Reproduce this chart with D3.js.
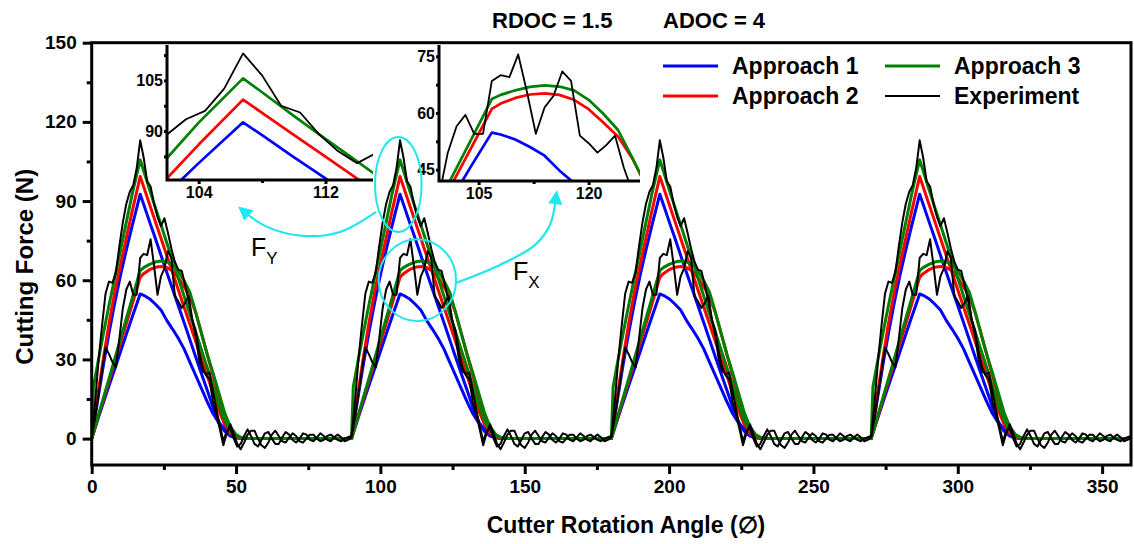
<!DOCTYPE html>
<html>
<head>
<meta charset="utf-8">
<script src="https://cdn.jsdelivr.net/npm/d3@7"></script>
<style>
body { margin: 0; background: #fff; }
svg { display: block; font-family: "Liberation Sans", Arial, sans-serif; }
</style>
</head>
<body>
<div id="chart"></div>
<script>
// the signal repeats for each of the 4 teeth, one period = 90 deg
const period = 90;
const teeth = 4;

// model curves, knots within one period
const modelAngles = [0, 0.6, 2, 4, 6, 8, 10, 12, 14, 16.8, 18, 20, 22, 24, 26, 28, 30, 32, 34, 36, 38, 40, 42, 44, 46, 48, 50, 52, 54, 90];
const a1Fy = [0, 4.2, 14, 27.5, 40, 51.5, 62, 71.5, 80.5, 92.6, 88.8, 82.3, 76, 69.5, 63, 56.7, 50.3, 44, 37.5, 31, 24.7, 18.4, 12, 6.5, 2.8, 1, 0.3, 0, 0, 0];
const a2Fy = [0, 4.6, 15.5, 30, 43.5, 55.5, 66, 76, 86, 99.3, 95.4, 88.9, 82.4, 75.9, 69.4, 62.9, 56.4, 49.9, 43.4, 36.9, 30.4, 23.9, 17.4, 11, 5.5, 2, 0.5, 0, 0, 0];
const a3Fy = [0, 19.5, 28, 39.5, 50.5, 61, 71.5, 82, 92.5, 105.6, 101.5, 94.5, 87.7, 81, 74.2, 67.5, 60.8, 54, 47.2, 40.5, 33.7, 27, 20, 13, 7, 3, 1, 0.2, 0, 0];
const a1Fx = [0, 2, 6.8, 13.5, 20, 26.5, 33, 39.5, 46, 54.8, 54.3, 53, 51, 48.7, 44.8, 41.5, 38, 34, 29, 24, 19, 14, 9.5, 6, 3.8, 1.5, 0.5, 0, 0, 0];
const a2Fx = [0, 2.2, 7.3, 14.5, 21.8, 29, 36.3, 43.5, 50.8, 61.1, 62.5, 64, 64.9, 65.2, 64.8, 63.5, 61, 57.5, 53.8, 47.8, 40, 32, 24, 16, 9, 4, 1, 0.2, 0, 0];
const a3Fx = [0, 2.3, 7.6, 15.2, 22.7, 30.3, 37.9, 45.5, 53, 63.7, 64.8, 66, 66.9, 67.3, 67, 66, 63.5, 59.8, 55.5, 48, 40, 32, 25, 17.5, 10, 4.5, 1.5, 0.3, 0, 0];

// experiment, sampled every 1.2 deg within one period
const expStep = 1.2;
const expFy = [1, 14, 30, 43, 55, 59.5, 59, 63, 73, 82, 89, 93.5, 96, 102.5, 113, 106.5, 97.5, 95.5, 89, 84,
  80.5, 83.5, 78, 72, 67, 64, 63.5, 58, 52, 45, 41, 33, 27, 24, 22.5, 14, 9, 3.5,
  -2.5, 2, 5.5, 2, -2, -4, -1.5, 1.5, 3, 3, 0, -2.5, -3.5, -1.5, 1.5, 3, 1, -1, -1.5, 0.5,
  2, 1, -1, -1.5, 0, 1.5, 1.5, 0, -1, -0.5, 1, 1.5, 0.5, -0.5, -1, 0, 0.5];
const expFx = [0.5, 8, 17, 26, 34.5, 32, 29, 27, 38, 49.5, 56.5, 59.5, 54.5, 54.5, 68.5, 70, 69.5, 75.5, 65.5, 54.5,
  61.5, 64.5, 71, 68.5, 54, 52, 49.5, 51.5, 54, 45.5, 39, 30, 25.5, 24.5, 25, 18, 11, 5,
  -1, 3, 4, 0, -3, -2, 1, 3.5, 1, -2, -3, -0.5, 2, 2.5, 0, -2, -2, 0.5, 2.5, 1.5,
  -0.5, -1.5, 0, 2, 1.5, -0.5, -1, 0.5, 2, 1, -0.5, -1, 0.5, 1.5, 0.5, -1, -0.5];

const xDomain = [0, 360];
const yDomain = [-10, 150];
const xTicks = [0, 50, 100, 150, 200, 250, 300, 350];
const xMinor = [25, 75, 125, 175, 225, 275, 325];
const yTicks = [0, 30, 60, 90, 120, 150];
const yMinor = [15, 45, 75, 105, 135];

const legendLabels = ["Approach 1", "Approach 2", "Approach 3", "Experiment"];
const colors = ["#0000ff", "#ff0000", "#008000", "#000000"];

// zoomed views: component shown, x/y ranges and ticks
const inset1 = {comp: "y", xd: [102, 115], yd: [75.5, 115.5], xt: [104, 112], xm: [108], yt: [90, 105], ym: [82.5, 97.5, 112.5]};
const inset2 = {comp: "x", xd: [99.6, 127], yd: [42, 78], xt: [105, 120], xm: [112.5], yt: [45, 60, 75], ym: [52.5, 67.5]};

// cyan annotations in data units (angle, force)
const ellipses = [[106.2, 96.3, 8.07, 18], [112.8, 60.0, 13.4, 15.5]];
const arrowFy = [[98.5, 85.9], [86.0, 78.3], [73.2, 76.8], [60.0, 80.6], [52.2, 86.6]];
const arrowFx = [[126.2, 59.0], [141.4, 65.8], [153.5, 73.3], [158.7, 80.9], [160.9, 92.0]];
const forceLabels = [["Y", 55.2, 69.2], ["X", 145.9, 60.1]];

const W = 1134, H = 544;
const plot = {left: 91.7, right: 1131, top: 42.7, bottom: 465};
const cyan = "#20e6ee";

const repeatModel = vals => {
    const pts = [];
    for (let t = 0; t < teeth; t++)
        modelAngles.forEach((a, i) => pts.push([t * period + a, vals[i]]));
    return pts;
};
const repeatExp = vals => {
    const pts = [];
    for (let t = 0; t < teeth; t++)
        vals.forEach((v, k) => pts.push([t * period + k * expStep, v]));
    pts.push([teeth * period, vals[0]]);
    return pts;
};

const series = [
    {pts: repeatModel(a1Fy), c: 0, comp: "y"}, {pts: repeatModel(a1Fx), c: 0, comp: "x"},
    {pts: repeatModel(a2Fy), c: 1, comp: "y"}, {pts: repeatModel(a2Fx), c: 1, comp: "x"},
    {pts: repeatModel(a3Fy), c: 2, comp: "y"}, {pts: repeatModel(a3Fx), c: 2, comp: "x"},
    {pts: repeatExp(expFy), c: 3, comp: "y"}, {pts: repeatExp(expFx), c: 3, comp: "x"}
];

const svg = d3.select("#chart").append("svg")
    .attr("width", W)
    .attr("height", H);

const defs = svg.append("defs");
defs.append("clipPath").attr("id", "plotClip").append("rect")
    .attr("x", plot.left).attr("y", plot.top)
    .attr("width", plot.right - plot.left).attr("height", plot.bottom - plot.top);
defs.append("marker")
    .attr("id", "arrowHead")
    .attr("viewBox", "0 0 10 10")
    .attr("refX", 6).attr("refY", 5)
    .attr("markerUnits", "userSpaceOnUse")
    .attr("markerWidth", 15).attr("markerHeight", 14)
    .attr("orient", "auto")
    .append("path").attr("d", "M0,0L10,5L0,10z").attr("fill", cyan);

const x = d3.scaleLinear().domain(xDomain).range([plot.left, plot.right]);
const y = d3.scaleLinear().domain(yDomain).range([plot.bottom, plot.top]);

const drawSeries = (g, sx, sy, wModel, wExp, comp) => {
    const line = d3.line().x(d => sx(d[0])).y(d => sy(d[1]));
    g.selectAll("path.s")
        .data(series.filter(d => !comp || d.comp === comp))
        .enter().append("path")
        .attr("class", "s")
        .attr("fill", "none")
        .attr("stroke", d => colors[d.c])
        .attr("stroke-width", d => d.c === 3 ? wExp : wModel)
        .attr("stroke-linejoin", "round")
        .attr("d", d => line(d.pts));
};

const main = svg.append("g").attr("clip-path", "url(#plotClip)");
drawSeries(main, x, y, 3, 2);

// frame
svg.append("rect")
    .attr("x", plot.left).attr("y", plot.top)
    .attr("width", plot.right - plot.left).attr("height", plot.bottom - plot.top)
    .attr("fill", "none").attr("stroke", "#000").attr("stroke-width", 3);

const styleAxis = (g, size) => {
    g.attr("font-size", size).attr("font-family", null).attr("font-weight", "bold");
    g.select(".domain").remove();
    g.selectAll("line").attr("stroke-width", 3);
};

svg.append("g")
    .attr("transform", `translate(0,${plot.bottom})`)
    .call(d3.axisBottom(x).tickValues(xTicks).tickSize(9).tickSizeOuter(0).tickPadding(6))
    .call(g => styleAxis(g, 19));
svg.append("g")
    .attr("transform", `translate(0,${plot.bottom})`)
    .call(d3.axisBottom(x).tickValues(xMinor).tickSize(5).tickFormat(""))
    .call(g => styleAxis(g, 19));
svg.append("g")
    .attr("transform", `translate(${plot.left},0)`)
    .call(d3.axisLeft(y).tickValues(yTicks).tickSize(9).tickSizeOuter(0).tickPadding(6))
    .call(g => styleAxis(g, 19));
svg.append("g")
    .attr("transform", `translate(${plot.left},0)`)
    .call(d3.axisLeft(y).tickValues(yMinor).tickSize(5).tickFormat(""))
    .call(g => styleAxis(g, 19));

// axis titles
svg.append("text")
    .attr("x", 626)
    .attr("y", 533)
    .attr("text-anchor", "middle")
    .attr("font-size", 23).attr("font-weight", "bold")
    .text("Cutter Rotation Angle (\u2205)");
svg.append("text")
    .attr("transform", `translate(33,${(plot.top + plot.bottom) / 2 + 13}) rotate(-90)`)
    .attr("text-anchor", "middle")
    .attr("font-size", 24).attr("font-weight", "bold")
    .text("Cutting Force (N)");

svg.append("text").attr("x", 492).attr("y", 28)
    .attr("font-size", 22).attr("font-weight", "bold").text("RDOC = 1.5");
svg.append("text").attr("x", 663).attr("y", 28)
    .attr("font-size", 22).attr("font-weight", "bold").text("ADOC = 4");

// legend
const legend = svg.append("g")
    .attr("font-size", 23).attr("font-weight", "bold")
    .selectAll("g")
    .data(legendLabels)
    .enter().append("g")
    .attr("transform", (d, i) => `translate(${i < 2 ? 663 : 885},${i % 2 ? 96 : 66})`);
legend.append("line")
    .attr("x1", 0).attr("x2", 55)
    .attr("stroke", (d, i) => colors[i])
    .attr("stroke-width", (d, i) => i === 3 ? 2 : 3);
legend.append("text")
    .attr("x", 69).attr("dy", "0.35em")
    .text(d => d);

// insets
const drawInset = (box, o, id) => {
    const sx = d3.scaleLinear().domain(o.xd).range([box.left, box.right]);
    const sy = d3.scaleLinear().domain(o.yd).range([box.bottom, box.top]);
    defs.append("clipPath").attr("id", id).append("rect")
        .attr("x", box.left).attr("y", box.top)
        .attr("width", box.right - box.left).attr("height", box.bottom - box.top);
    const g = svg.append("g");
    g.append("rect")
        .attr("x", box.left).attr("y", box.top)
        .attr("width", box.right - box.left).attr("height", box.bottom - box.top)
        .attr("fill", "#fff");
    drawSeries(g.append("g").attr("clip-path", `url(#${id})`), sx, sy, 2.7, 1.8, o.comp);
    g.append("g")
        .attr("transform", `translate(0,${box.bottom})`)
        .call(d3.axisBottom(sx).tickValues(o.xt).tickSize(4).tickSizeOuter(0).tickPadding(3))
        .call(a => styleAxis(a, 16));
    g.append("g")
        .attr("transform", `translate(0,${box.bottom})`)
        .call(d3.axisBottom(sx).tickValues(o.xm).tickSize(3).tickFormat(""))
        .call(a => styleAxis(a, 16));
    g.append("g")
        .attr("transform", `translate(${box.left},0)`)
        .call(d3.axisLeft(sy).tickValues(o.yt).tickSize(3).tickSizeOuter(0).tickPadding(1))
        .call(a => styleAxis(a, 16));
    g.append("g")
        .attr("transform", `translate(${box.left},0)`)
        .call(d3.axisLeft(sy).tickValues(o.ym).tickSize(3).tickFormat(""))
        .call(a => styleAxis(a, 16));
    g.append("path")
        .attr("d", `M${box.left},${box.top}V${box.bottom}H${box.right}`)
        .attr("fill", "none").attr("stroke", "#000").attr("stroke-width", 3);
};
drawInset({left: 167, right: 373, top: 45, bottom: 180}, inset1, "clip1");
drawInset({left: 439, right: 640, top: 45, bottom: 181}, inset2, "clip2");

// cyan highlights
svg.append("g")
    .selectAll("ellipse")
    .data(ellipses)
    .enter().append("ellipse")
    .attr("cx", d => x(d[0])).attr("cy", d => y(d[1]))
    .attr("rx", d => x(d[0] + d[2]) - x(d[0]))
    .attr("ry", d => y(d[1] - d[3]) - y(d[1]))
    .attr("fill", "none").attr("stroke", cyan).attr("stroke-width", 2);

const arrowLine = d3.line().x(d => x(d[0])).y(d => y(d[1])).curve(d3.curveCatmullRom);
svg.append("g")
    .selectAll("path")
    .data([arrowFy, arrowFx])
    .enter().append("path")
    .attr("d", arrowLine)
    .attr("fill", "none").attr("stroke", cyan).attr("stroke-width", 2.2)
    .attr("marker-end", "url(#arrowHead)");

const fl = svg.append("g")
    .selectAll("text")
    .data(forceLabels)
    .enter().append("text")
    .attr("x", d => x(d[1])).attr("y", d => y(d[2]))
    .attr("font-size", 25);
fl.append("tspan").text("F");
fl.append("tspan").attr("dy", 8).attr("font-size", 17).text(d => d[0]);
</script>
</body>
</html>
